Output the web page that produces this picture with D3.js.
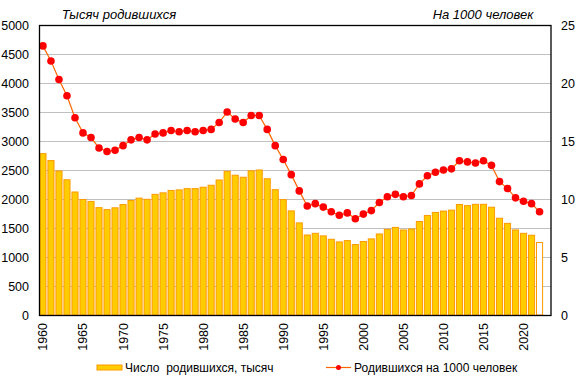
<!DOCTYPE html>
<meta charset="utf-8">
<head>
<style>
body { margin: 0; background: #fff; }
text { font-family: "Liberation Sans", Arial, sans-serif; }
.grid line { stroke: #c0c0c0; stroke-width: 1px; }
</style>
</head>
<body>
<script src="https://d3js.org/d3.v7.min.js"></script>
<div id="chart"></div>
<script>

var years = d3.range(1960, 2023);

// births, thousand
var births = [2782, 2662, 2483, 2332, 2121, 1991, 1958, 1851, 1817, 1848,
  1904, 1975, 2015, 1995, 2080, 2106, 2147, 2157, 2179, 2179,
  2203, 2237, 2328, 2478, 2410, 2375, 2486, 2500, 2349, 2161,
  1989, 1795, 1588, 1379, 1408, 1364, 1305, 1260, 1283, 1215,
  1267, 1312, 1397, 1477, 1510, 1466, 1483, 1612, 1716, 1768,
  1792, 1808, 1905, 1886, 1908, 1908, 1858, 1668, 1580, 1467,
  1408, 1375, 1250];

// births per 1000 people
var rate = [23.2, 21.9, 20.3, 18.9, 17.0, 15.7, 15.3, 14.4, 14.1, 14.2,
  14.6, 15.1, 15.3, 15.1, 15.6, 15.7, 15.9, 15.8, 15.9, 15.8,
  15.9, 16.0, 16.6, 17.5, 16.9, 16.6, 17.2, 17.2, 16.0, 14.6,
  13.4, 12.1, 10.7, 9.4, 9.6, 9.3, 8.9, 8.6, 8.8, 8.3,
  8.7, 9.0, 9.7, 10.2, 10.4, 10.2, 10.3, 11.3, 12.0, 12.3,
  12.5, 12.6, 13.3, 13.2, 13.1, 13.3, 12.9, 11.5, 10.9, 10.1,
  9.8, 9.6, 8.9];

var leftTicks = d3.range(0, 5001, 500);
var rightTicks = [0, 5, 10, 15, 20, 25];
var yearTicks = d3.range(1960, 2021, 5);

var width = 578, height = 391;
var plotL = 39.5, plotR = 551, plotT = 25, plotB = 315;

var svg = d3.select('#chart').append('svg')
    .attr('width', width)
    .attr('height', height);

var x = d3.scaleBand()
    .domain(d3.range(1960, 2024))
    .range([plotL, plotR])
    .paddingInner(0.24)
    .paddingOuter(0.05);

var yL = d3.scaleLinear().domain([0, 5000]).range([plotB, plotT]);
var yR = d3.scaleLinear().domain([0, 25]).range([plotB, plotT]);

// grid
svg.append('g').attr('class', 'grid')
  .selectAll('line')
  .data(leftTicks.slice(1, -1))
  .enter().append('line')
    .attr('x1', plotL).attr('x2', plotR)
    .attr('y1', function (d) { return Math.round(yL(d)) + 0.5; })
    .attr('y2', function (d) { return Math.round(yL(d)) + 0.5; });

// bars
svg.append('g')
  .selectAll('rect')
  .data(years)
  .enter().append('rect')
    .attr('x', function (d) { return x(d); })
    .attr('width', x.bandwidth())
    .attr('y', function (d, i) { return yL(births[i]); })
    .attr('height', function (d, i) { return plotB - yL(births[i]); })
    .attr('fill', function (d) { return d === 2022 ? '#fff' : '#ffcc00'; })
    .attr('stroke', '#ff9900')
    .attr('stroke-width', 1);

// line
var line = d3.line()
    .x(function (d) { return x(d) + x.bandwidth() / 2; })
    .y(function (d, i) { return yR(rate[i]); });

svg.append('path')
    .datum(years)
    .attr('d', line)
    .attr('fill', 'none')
    .attr('stroke', '#ff6600')
    .attr('stroke-width', 1.2);

svg.append('g')
  .selectAll('circle')
  .data(years)
  .enter().append('circle')
    .attr('cx', function (d) { return x(d) + x.bandwidth() / 2; })
    .attr('cy', function (d, i) { return yR(rate[i]); })
    .attr('r', 3.8)
    .attr('fill', '#ff0000');

// frame
svg.append('rect')
    .attr('x', plotL).attr('y', plotT + 0.5)
    .attr('width', plotR - plotL).attr('height', plotB - plotT)
    .attr('fill', 'none')
    .attr('stroke', '#000')
    .attr('stroke-width', 1.3);

// left axis labels
svg.append('g')
  .selectAll('text')
  .data(leftTicks)
  .enter().append('text')
    .attr('x', 29)
    .attr('y', function (d) { return yL(d) + 4.5; })
    .attr('text-anchor', 'end')
    .attr('font-size', 12.5)
    .attr('fill', '#000')
    .text(function (d) { return d; });

// right axis labels
svg.append('g')
  .selectAll('text')
  .data(rightTicks)
  .enter().append('text')
    .attr('x', 561)
    .attr('y', function (d) { return yR(d) + 4.5; })
    .attr('text-anchor', 'start')
    .attr('font-size', 12.5)
    .attr('fill', '#000')
    .text(function (d) { return d; });

// year labels
svg.append('g')
  .selectAll('text')
  .data(yearTicks)
  .enter().append('text')
    .attr('transform', function (d) {
      return 'translate(' + (x(d) + x.bandwidth() / 2 + 4.5) + ',' + 323 + ') rotate(-90)';
    })
    .attr('text-anchor', 'end')
    .attr('font-size', 12.5)
    .attr('fill', '#000')
    .text(function (d) { return d; });

// titles
svg.append('text')
    .attr('x', 119).attr('y', 19)
    .attr('text-anchor', 'middle')
    .attr('font-size', 13)
    .attr('font-style', 'italic')
    .text('Тысяч родившихся');

svg.append('text')
    .attr('x', 483).attr('y', 19)
    .attr('text-anchor', 'middle')
    .attr('font-size', 13)
    .attr('font-style', 'italic')
    .text('На 1000 человек');

// legend
svg.append('rect')
    .attr('x', 97).attr('y', 365)
    .attr('width', 25).attr('height', 5)
    .attr('fill', '#ffcc00')
    .attr('stroke', '#ff9900');
svg.append('text')
    .attr('x', 125).attr('y', 372)
    .attr('font-size', 12)
    .attr('xml:space', 'preserve')
    .text('Число  родившихся, тысяч');

svg.append('line')
    .attr('x1', 326).attr('x2', 351)
    .attr('y1', 367.5).attr('y2', 367.5)
    .attr('stroke', '#ff6600')
    .attr('stroke-width', 1.2);
svg.append('circle')
    .attr('cx', 338.5).attr('cy', 367.5).attr('r', 2.5)
    .attr('fill', '#ff0000');
svg.append('text')
    .attr('x', 354).attr('y', 372)
    .attr('font-size', 12)
    .text('Родившихся на 1000 человек');

</script>
</body>
